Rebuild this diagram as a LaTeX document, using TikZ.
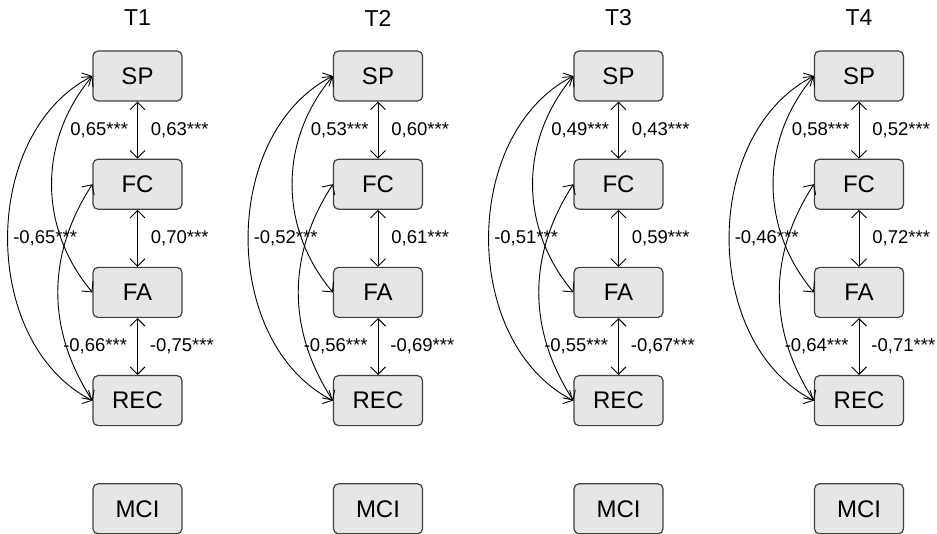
\documentclass[tikz,border=0pt]{standalone}
\usepackage{fontspec}
\setmainfont{Liberation Sans}
\usetikzlibrary{arrows.meta,positioning}
\definecolor{BoxGray}{RGB}{230,230,230}
\definecolor{RimGray}{RGB}{64,64,64}

\begin{document}
\begin{tikzpicture}[x=1pt, y=-1pt, line width=0.9pt,
      >={Straight Barb[length=7.5pt,width=15pt]},
      node distance=57pt,
      every node/.append style={font=\fontsize{18.5}{20}\selectfont}]
	  \tikzstyle{box} = [draw=RimGray, fill=BoxGray, line width=1.2pt, rounded corners=5pt,
	                     minimum width=89pt, minimum height=50pt, font=\fontsize{24}{28}\selectfont]
	  \tikzstyle{wave} = [font=\fontsize{23}{26}\selectfont]
	  \tikzstyle{coef} = [inner sep=1pt]
	  \useasboundingbox (0,0) rectangle (937,534);
	  % T1
	  \node (t1) [wave] at (137.5,18) {T1};
	  \node (sp1) [box] at (137.5,76) {SP};
	  \node (fc1) [box, below=of sp1] {FC};
	  \node (fa1) [box, below=of fc1] {FA};
	  \node (rec1) [box, below=of fa1] {REC};
	  \node (mci1) [box, below=of rec1] {MCI};
	  \draw[<->] (sp1) -- (fc1) node [coef,midway,left=8pt] {0,65***} node [coef,midway,right=12pt] {0,63***};
	  \draw[<->] (fc1) -- (fa1) node [coef,midway,right=12pt] {0,70***};
	  \draw[<->] (fa1) -- (rec1) node [coef,midway,left=9pt] {-0,66***} node [coef,midway,right=11pt] {-0,75***};
	  \draw[<->] (sp1.west) to [bend right=63] node [coef,midway,right=4pt] {-0,65***} (rec1.west);
	  \draw[<->] (sp1.west) to [bend right=40] (fa1.west);
	  \draw[<->] (fc1.west) to [bend right=33] (rec1.west);
	  % T2
	  \node (t2) [wave] at (378,18) {T2};
	  \node (sp2) [box] at (378,76) {SP};
	  \node (fc2) [box, below=of sp2] {FC};
	  \node (fa2) [box, below=of fc2] {FA};
	  \node (rec2) [box, below=of fa2] {REC};
	  \node (mci2) [box, below=of rec2] {MCI};
	  \draw[<->] (sp2) -- (fc2) node [coef,midway,left=8pt] {0,53***} node [coef,midway,right=12pt] {0,60***};
	  \draw[<->] (fc2) -- (fa2) node [coef,midway,right=12pt] {0,61***};
	  \draw[<->] (fa2) -- (rec2) node [coef,midway,left=9pt] {-0,56***} node [coef,midway,right=11pt] {-0,69***};
	  \draw[<->] (sp2.west) to [bend right=63] node [coef,midway,right=4pt] {-0,52***} (rec2.west);
	  \draw[<->] (sp2.west) to [bend right=40] (fa2.west);
	  \draw[<->] (fc2.west) to [bend right=33] (rec2.west);
	  % T3
	  \node (t3) [wave] at (618.5,18) {T3};
	  \node (sp3) [box] at (618.5,76) {SP};
	  \node (fc3) [box, below=of sp3] {FC};
	  \node (fa3) [box, below=of fc3] {FA};
	  \node (rec3) [box, below=of fa3] {REC};
	  \node (mci3) [box, below=of rec3] {MCI};
	  \draw[<->] (sp3) -- (fc3) node [coef,midway,left=8pt] {0,49***} node [coef,midway,right=12pt] {0,43***};
	  \draw[<->] (fc3) -- (fa3) node [coef,midway,right=12pt] {0,59***};
	  \draw[<->] (fa3) -- (rec3) node [coef,midway,left=9pt] {-0,55***} node [coef,midway,right=11pt] {-0,67***};
	  \draw[<->] (sp3.west) to [bend right=63] node [coef,midway,right=4pt] {-0,51***} (rec3.west);
	  \draw[<->] (sp3.west) to [bend right=40] (fa3.west);
	  \draw[<->] (fc3.west) to [bend right=33] (rec3.west);
	  % T4
	  \node (t4) [wave] at (859,18) {T4};
	  \node (sp4) [box] at (859,76) {SP};
	  \node (fc4) [box, below=of sp4] {FC};
	  \node (fa4) [box, below=of fc4] {FA};
	  \node (rec4) [box, below=of fa4] {REC};
	  \node (mci4) [box, below=of rec4] {MCI};
	  \draw[<->] (sp4) -- (fc4) node [coef,midway,left=8pt] {0,58***} node [coef,midway,right=12pt] {0,52***};
	  \draw[<->] (fc4) -- (fa4) node [coef,midway,right=12pt] {0,72***};
	  \draw[<->] (fa4) -- (rec4) node [coef,midway,left=9pt] {-0,64***} node [coef,midway,right=11pt] {-0,71***};
	  \draw[<->] (sp4.west) to [bend right=63] node [coef,midway,right=4pt] {-0,46***} (rec4.west);
	  \draw[<->] (sp4.west) to [bend right=40] (fa4.west);
	  \draw[<->] (fc4.west) to [bend right=33] (rec4.west);
\end{tikzpicture}
\end{document}
